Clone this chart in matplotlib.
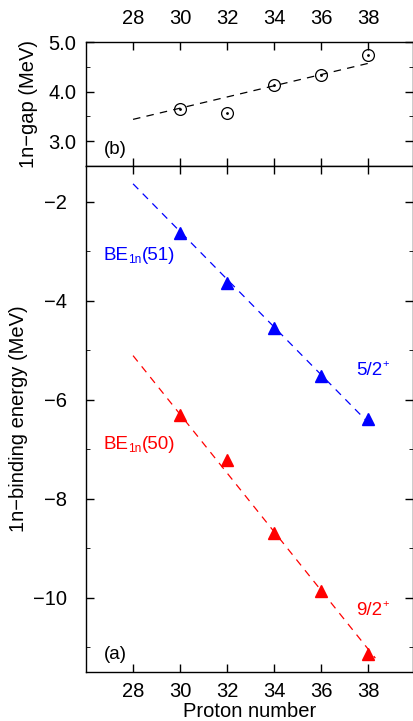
import matplotlib.pyplot as plt

plt.rcParams['font.family'] = ['Liberation Sans', 'DejaVu Sans']

protons = [30, 32, 34, 36, 38]
gap = [3.65, 3.56, 4.13, 4.33, 4.74]
gap_line_x = [28, 38]
gap_line_y = [3.44, 4.57]

be51 = [-2.63, -3.65, -4.56, -5.53, -6.39]
be51_line_x = [28, 38.2]
be51_line_y = [-1.64, -6.56]
be50 = [-6.30, -7.22, -8.69, -9.87, -11.13]
be50_line_x = [28, 38.3]
be50_line_y = [-5.11, -11.22]

xticks = [28, 30, 32, 34, 36, 38]
fs = 14.5
tfs = 13.5

fig = plt.figure(figsize=(4.13, 7.21), dpi=100)
W, H = 413, 721
axb = fig.add_axes([86 / W, 1 - 166 / H, 1 - 86 / W, (166 - 42) / H])
axa = fig.add_axes([86 / W, 1 - 672 / H, 1 - 86 / W, (672 - 166) / H])
rend = fig.canvas.get_renderer()


def label(ax, x, y, parts, color='black'):
    # parts: (text, fontsize, vertical shift in points)
    dx = 0
    for s, size, dy in parts:
        t = ax.annotate(s, (x, y), xytext=(dx, dy), textcoords='offset points',
                        fontsize=size, color=color, va='baseline')
        dx += t.get_window_extent(rend).width * 72 / fig.dpi


for ax in (axa, axb):
    ax.set_xlim(26, 39.9)
    ax.set_xticks(xticks)
    ax.tick_params(direction='in', top=True, right=True, labelsize=fs,
                   length=6, width=1)
    ax.tick_params(which='minor', direction='in', right=True, length=3)
    for s in ax.spines.values():
        s.set_linewidth(1)

# (b) gap panel
axb.plot(gap_line_x, gap_line_y, ls=(0, (6, 5)), color='black', lw=0.9)
axb.plot(protons, gap, 'o', mfc='none', mec='black', ms=8.5, mew=0.9)
axb.plot(protons, gap, '.', color='black', ms=2)
axb.set_ylim(2.5, 5.0)
axb.set_yticks([3.0, 4.0, 5.0])
axb.set_yticks([2.5, 3.5, 4.5], minor=True)
axb.set_yticklabels(['3.0', '4.0', '5.0'])
axb.tick_params(axis='y', pad=7)
axb.tick_params(axis='x', labelbottom=False, labeltop=True, pad=10)
axb.set_ylabel('1n\u2212gap (MeV)', fontsize=fs)
axb.yaxis.set_label_coords(-0.147, 0.5)
label(axb, 26.74, 2.74, [('(b)', tfs, 0)])

# (a) binding energy panel
axa.plot(be51_line_x, be51_line_y, ls=(0, (6, 5)), color='blue', lw=0.9)
axa.plot(protons, be51, '^', color='blue', ms=9)
axa.plot(be50_line_x, be50_line_y, ls=(0, (6, 5)), color='red', lw=0.9)
axa.plot(protons, be50, '^', color='red', ms=9)
axa.set_ylim(-11.5, -1.28)
axa.set_yticks([-10, -8, -6, -4, -2])
axa.set_yticks([-11, -9, -7, -5, -3], minor=True)
axa.tick_params(axis='y', pad=14)
axa.tick_params(axis='x', pad=7)
axa.set_ylabel('1n\u2212binding energy (MeV)', fontsize=fs)
axa.yaxis.set_label_coords(-0.177, 0.5)
axa.set_xlabel('Proton number', fontsize=fs, labelpad=1)

label(axa, 26.74, -3.18, [('BE', tfs, 0), ('1n', 8.5, -2.3), ('(51)', tfs, 0)], 'blue')
label(axa, 37.47, -5.50, [('5/2', tfs, 0), ('+', 8, 6)], 'blue')
label(axa, 26.74, -7.0, [('BE', tfs, 0), ('1n', 8.5, -2.3), ('(50)', tfs, 0)], 'red')
label(axa, 37.47, -10.35, [('9/2', tfs, 0), ('+', 8, 6)], 'red')
label(axa, 26.74, -11.24, [('(a)', tfs, 0)])

fig.savefig('out.png', dpi=100)
